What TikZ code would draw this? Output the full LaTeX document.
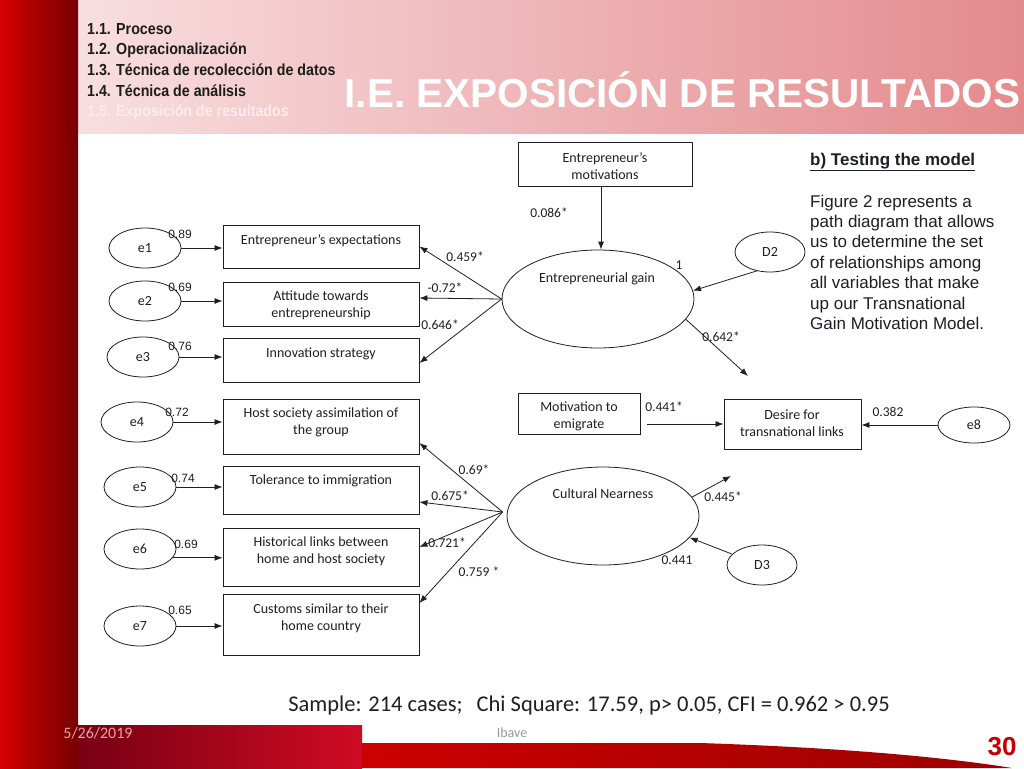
\documentclass[tikz,border=0pt]{standalone}
\usepackage{fontspec}
\usepackage{graphicx}
\setmainfont{Carlito}
\newfontfamily\arialf{Liberation Sans}
\usetikzlibrary{shapes.geometric,arrows.meta,calc}
\definecolor{barL}{RGB}{214,0,0}
\definecolor{barR}{RGB}{118,0,0}
\definecolor{hdrL}{RGB}{248,222,224}
\definecolor{hdrR}{RGB}{228,138,140}
\definecolor{ftL}{RGB}{120,0,18}
\definecolor{ftR}{RGB}{208,10,36}
\definecolor{swL}{RGB}{204,0,0}
\definecolor{swR}{RGB}{158,0,0}
\definecolor{ink}{RGB}{30,30,40}
\definecolor{datec}{RGB}{233,163,163}
\definecolor{numred}{RGB}{196,0,0}
\definecolor{hdrtxt}{RGB}{28,28,28}
\definecolor{hdrcur}{RGB}{250,236,236}
\newcommand{\narrowtxt}[1]{\scalebox{0.89}[1]{#1}}
\begin{document}
\begin{tikzpicture}[x=1pt,y=-1pt,
  box/.style={draw=ink,line width=0.9pt,rectangle,inner sep=0pt,minimum width=196pt},
  lat/.style={draw=ink,line width=0.8pt,ellipse,inner sep=0pt},
  txt/.style={text=ink,font=\fontsize{14}{17}\selectfont,align=center,inner sep=0pt},
  lab/.style={text=ink,font=\fontsize{13.5}{15}\selectfont,inner sep=0pt},
  elab/.style={text=ink,font=\arialf\fontsize{12}{14}\selectfont,inner sep=0pt},
  arr/.style={draw=ink,line width=0.8pt,-{Latex[length=8pt,width=6pt]}},
  hitem/.style={anchor=base west,inner sep=0pt,font=\arialf\bfseries\fontsize{16}{18}\selectfont,text=hdrtxt},
]
\useasboundingbox (0,0) rectangle (1024,768);
\fill[white] (0,0) rectangle (1024,768);
% header and side bar
\shade[left color=hdrL,right color=hdrR] (78,0) rectangle (1024,133);
\shade[left color=barL,right color=barR] (0,0) rectangle (78,768);
% footer
\shade[left color=swL,right color=swR] (362,743) -- (700,743) .. controls (850,748) and (950,758) .. (1012,768) -- (362,768) -- cycle;
\shade[left color=ftL,right color=ftR] (78,725) rectangle (362,768);

% header texts
\node[hitem] (h1) at (87,34.5) {\narrowtxt{1.1. Proceso}};
\node[hitem] (h2) at (87,55) {\narrowtxt{1.2. Operacionalización}};
\node[hitem] (h3) at (87,75.5) {\narrowtxt{1.3. Técnica de recolección de datos}};
\node[hitem] (h4) at (87,96) {\narrowtxt{1.4. Técnica de análisis}};
\node[hitem,text=hdrcur] (h5) at (87,116.5) {\narrowtxt{1.5. Exposición de resultados}};
\node[anchor=base,inner sep=0pt,text=white,font=\arialf\bfseries\fontsize{40.5}{42}\selectfont] (title) at (682.5,107.5) {I.E. EXPOSICIÓN DE RESULTADOS};

% top structure
\node[box,minimum width=174pt,minimum height=44pt] (mot) at (605,164) {};
\node[txt] (motT) at (605,166) {Entrepreneur’s\\motivations};
\node[lat,minimum width=192pt,minimum height=98pt] (eg) at (598,299) {};
\node[txt] (egT) at (597,279) {Entrepreneurial gain};
\node[lat,minimum width=70pt,minimum height=40pt] (D2) at (770,252) {};
\node[txt] (D2T) at (770,252) {D2};

% left boxes
\node[box,minimum height=43pt] (b1) at (321,246.5) {};
\node[txt] (b1T) at (321,241) {Entrepreneur’s expectations};
\node[box,minimum height=44pt] (b2) at (321,304) {};
\node[txt] (b2T) at (321,305) {Attitude towards\\entrepreneurship};
\node[box,minimum height=44pt] (b3) at (321,360) {};
\node[txt] (b3T) at (321,354) {Innovation strategy};
\node[box,minimum height=55pt] (b4) at (321,426.5) {};
\node[txt] (b4T) at (321,422) {Host society assimilation of\\the group};
\node[box,minimum height=48pt] (b5) at (321,490) {};
\node[txt] (b5T) at (321,481) {Tolerance to immigration};
\node[box,minimum height=58pt] (b6) at (321,557) {};
\node[txt] (b6T) at (321,551) {Historical links between\\home and host society};
\node[box,minimum height=61pt] (b7) at (321,624.5) {};
\node[txt] (b7T) at (321,618) {Customs similar to their\\home country};

% error ellipses
\foreach \n/\x/\y in {e1/145/248,e2/145/301,e3/143/357,e4/137/422,e5/140/487,e6/140/549,e7/140/626}{
  \node[lat,minimum width=72pt,minimum height=40pt] (\n) at (\x,\y) {};
  \node[txt] (\n T) at (\x,\y) {\n};
}
\foreach \n/\b in {e1/b1,e2/b2,e3/b3,e4/b4,e5/b5,e7/b7}{
  \draw[arr] (\n.east) -- (\n.east -| \b.west);
}
\draw[arr] (e6.-15) -- (e6.-15 -| b6.west);

\node[elab] (l1) at (180,234) {0.89};
\node[elab] (l2) at (180,287) {0.69};
\node[elab] (l3) at (180,346) {0.76};
\node[elab] (l4) at (177,412) {0.72};
\node[elab] (l5) at (183,478) {0.74};
\node[elab] (l6) at (186,544) {0.69};
\node[elab] (l7) at (180,610) {0.65};

% fan from entrepreneurial gain
\draw[arr] (eg.west) -- (b1.east);
\draw[arr] (eg.west) -- ([yshift=6pt]b2.east);
\draw[arr] (eg.west) -- ([yshift=-3pt]b3.east);
\node[lab] (f1) at (465,257) {0.459*};
\node[lab] (f2) at (445,288) {-0.72*};
\node[lab] (f3) at (440,325) {0.646*};

\draw[arr] ([xshift=-4pt]mot.south) -- ([xshift=-4pt]mot.south |- eg.north);
\node[lab] (m1) at (549,213) {0.086*};
\draw[arr] (D2.235) -- (eg.5);
\node[lab] (one) at (679,265) {1};
\coordinate (o642) at (748,376);
\draw[arr] (eg.-13) -- (o642);
\node[lab] (m2) at (721,337) {0.642*};

% motivation to emigrate / desire
\node[box,minimum width=122pt,minimum height=41pt] (mte) at (579,413.5) {};
\node[txt] (mteT) at (579,416) {Motivation to\\emigrate};
\node[box,minimum width=137pt,minimum height=50pt] (des) at (792.5,424) {};
\node[txt] (desT) at (792,423) {Desire for\\transnational links};
\node[lat,minimum width=72pt,minimum height=36pt] (e8) at (974,425) {};
\node[txt] (e8T) at (974,425) {e8};
\draw[arr] ([xshift=7pt]mte.east |- des.west) -- (des.west);
\node[lab] (m3) at (664,407) {0.441*};
\draw[arr] (e8.west) -- (e8.west -| des.east);
\node[lab] (m4) at (888,412) {0.382};

% cultural nearness
\node[lat,minimum width=192pt,minimum height=98pt] (cn) at (603,516) {};
\node[txt] (cnT) at (603,494) {Cultural Nearness};
\draw[arr] ([xshift=-4pt,yshift=4pt]cn.west) -- ([yshift=-16.5pt]b4.east);
\draw[arr] ([xshift=-4pt,yshift=4pt]cn.west) -- ([yshift=-12pt]b5.east);
\draw[arr] ([xshift=-4pt,yshift=4pt]cn.west) -- ([yshift=10pt]b6.east);
\draw[arr] ([xshift=-4pt,yshift=4pt]cn.west) -- ([yshift=21.5pt]b7.east);
\node[lab] (c1) at (474,470) {0.69*};
\node[lab] (c2) at (450,496) {0.675*};
\node[lab] (c3) at (447,543) {0.721*};
\node[lab] (c4) at (479,572) {0.759 *};
\coordinate (o445) at (731,476);
\draw[arr] (cn.12) -- (o445);
\node[lab] (c5) at (723,497) {0.445*};
\node[lat,minimum width=70pt,minimum height=40pt] (D3) at (762,565) {};
\node[txt] (D3T) at (762,565) {D3};
\draw[arr] (D3.160) -- (cn.-14);
\node[lab] (c6) at (677,560) {0.441};

% right text
\node[anchor=base west,inner sep=0pt,text=ink,font=\arialf\bfseries\fontsize{17}{20}\selectfont] (rt) at (810,165) {\underline{b) Testing the model}};
\node[anchor=north west,inner sep=0pt,align=left,text=ink,font=\arialf\fontsize{17}{20.4}\selectfont] (rp) at (810,194.5) {Figure 2 represents a\\path diagram that allows\\us to determine the set\\of relationships among\\all variables that make\\up our Transnational\\Gain Motivation Model.};

% footer texts
\node[inner sep=0pt,text=ink,font=\fontsize{22.5}{25}\selectfont] (sample) at (589,705) {Sample: 214 cases;\hspace{14pt}Chi Square: 17.59, p> 0.05, CFI = 0.962 > 0.95};
\node[inner sep=0pt,text=datec,font=\fontsize{16}{18}\selectfont] (date) at (98,733) {5/26/2019};
\node[inner sep=0pt,text=gray!80,font=\fontsize{14}{16}\selectfont] (ibave) at (512,733) {Ibave};
\node[inner sep=0pt,text=numred,font=\arialf\bfseries\fontsize{26}{28}\selectfont] (pg) at (1002,747) {30};
\end{tikzpicture}
\end{document}
